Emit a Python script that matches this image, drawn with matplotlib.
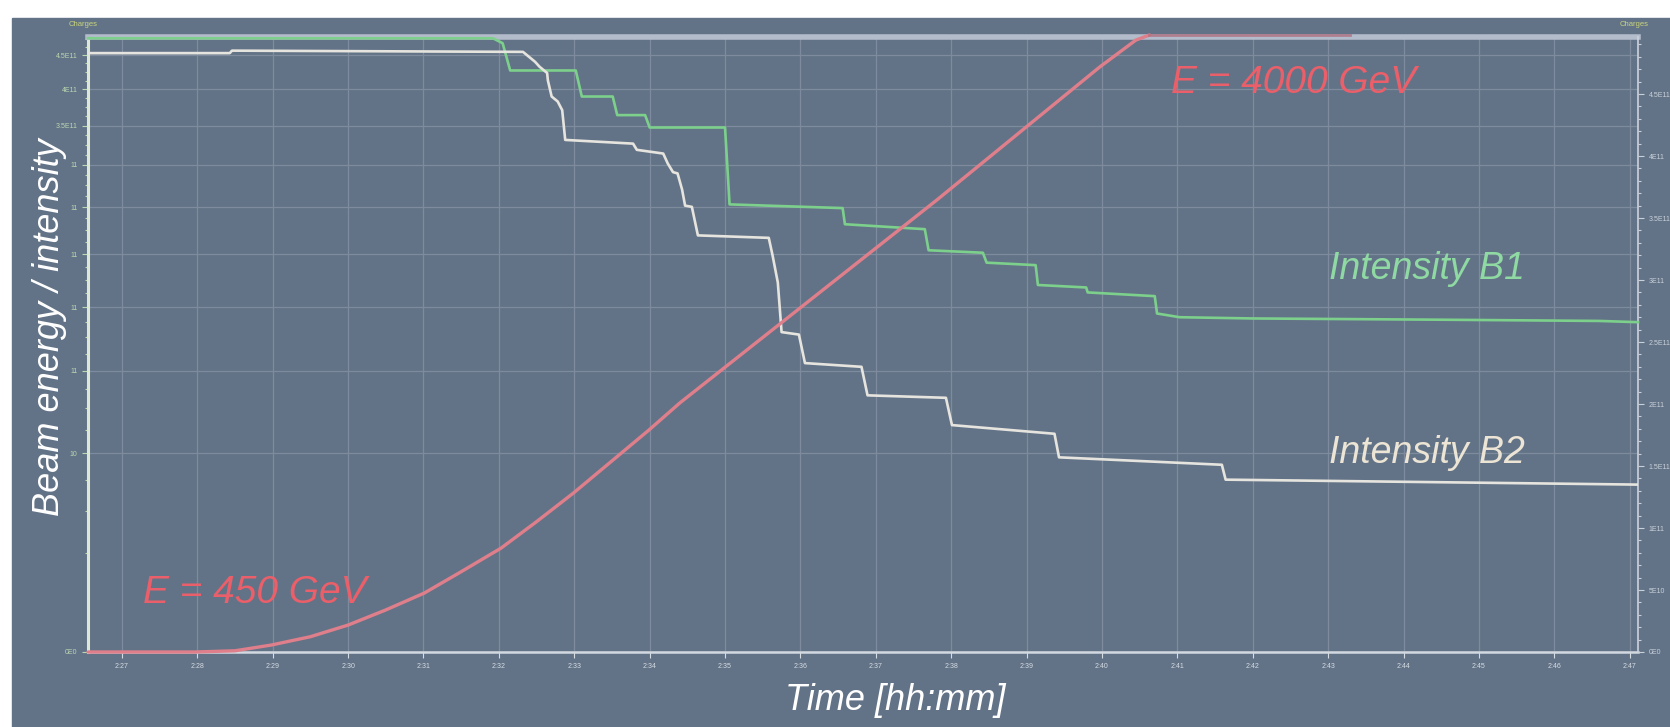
import matplotlib

matplotlib.use("Agg")
import matplotlib.pyplot as plt
import numpy as np
from matplotlib.patches import Rectangle
from matplotlib.ticker import MultipleLocator

plt.rcParams["font.family"] = ["Liberation Sans", "DejaVu Sans"]

# time axis: minutes after 2:00
b1_time = [26.55, 31.92, 32.05, 32.15, 33.02, 33.10, 33.51, 33.57, 33.94, 34.00,
           35.00, 35.06, 36.56, 36.59, 37.65, 37.70, 38.42, 38.47, 39.12, 39.15,
           39.79, 39.81, 40.70, 40.73, 41.03, 42.00, 44.48, 46.60, 47.11]
b1_intensity = [4.95, 4.95, 4.91, 4.69, 4.69, 4.48, 4.48, 4.33, 4.33, 4.23,
                4.23, 3.61, 3.58, 3.45, 3.41, 3.24, 3.22, 3.14, 3.12, 2.96,
                2.94, 2.90, 2.87, 2.73, 2.70, 2.69, 2.68, 2.67, 2.66]  # 1e11 p

b2_time = [26.55, 28.43, 28.46, 32.32, 32.48, 32.54, 32.64, 32.65, 32.70, 32.78,
           32.84, 32.88, 33.78, 33.83, 34.18, 34.24, 34.31, 34.37, 34.43, 34.47,
           34.56, 34.64, 35.58, 35.63, 35.70, 35.75, 35.98, 36.06, 36.81, 36.89,
           37.93, 38.01, 39.37, 39.43, 41.59, 41.64, 47.11]
b2_intensity = [4.83, 4.83, 4.85, 4.84, 4.76, 4.72, 4.67, 4.61, 4.48, 4.44,
                4.37, 4.13, 4.10, 4.05, 4.02, 3.94, 3.87, 3.86, 3.73, 3.60,
                3.59, 3.36, 3.34, 3.20, 2.98, 2.58, 2.56, 2.33, 2.30, 2.07,
                2.05, 1.83, 1.76, 1.57, 1.51, 1.39, 1.35]

energy_time = [26.55, 27.97, 28.50, 28.98, 29.50, 30.00, 30.50, 31.01, 31.50, 32.03,
               32.50, 32.99, 33.99, 34.40, 37.81, 39.97, 40.45, 40.63, 43.29]
energy_gev = [450, 450, 457, 490, 538, 605, 692, 789, 912, 1048,
              1200, 1365, 1727, 1883, 3051, 3816, 3971, 4000, 4000]

minute_ticks = list(range(27, 48))
minute_labels = [f"2:{m}" for m in minute_ticks]
intensity_ticks = [0, 0.5, 1, 1.5, 2, 2.5, 3, 3.5, 4, 4.5]
intensity_labels = ["0E0", "5E10", "1E11", "1.5E11", "2E11", "2.5E11",
                    "3E11", "3.5E11", "4E11", "4.5E11"]
# left-hand labels partly sit under the axis title panel
left_labels = ["0E0", "10", "11", "11", "11", "11", "11", "3.5E11", "4E11", "4.5E11"]

SLATE = "#637387"
GRID = "#7e8b9e"
W, H = 1670, 727


def fx(px):
    return px / W


def fy(py):
    return 1 - py / H


fig = plt.figure(figsize=(W / 100, H / 100), dpi=100)
fig.patch.set_facecolor("white")
fig.patches.append(Rectangle((fx(12), 0), 1 - fx(12), fy(18), transform=fig.transFigure,
                             color=SLATE, zorder=-10))

pos = [fx(88), fy(652), fx(1638) - fx(88), fy(37) - fy(652)]

# left axis: square-root scale, carries the grid
ax = fig.add_axes(pos)
ax.set_facecolor("none")
ax.set_xlim(26.55, 47.11)
ax.set_yscale("function", functions=(lambda v: np.sqrt(np.clip(v, 0, None)), np.square))
ax.set_ylim(0, 4.777)
ax.set_yticks(intensity_ticks, left_labels)
ax.yaxis.set_minor_locator(MultipleLocator(0.125))
ax.set_xticks(minute_ticks, minute_labels)
ax.grid(True, color=GRID, lw=0.9)
ax.tick_params(axis="y", which="both", colors="#b9d8b0", labelsize=5, length=4, width=0.8)
ax.tick_params(axis="y", which="minor", length=2)
ax.tick_params(axis="x", colors="#d5dbe3", labelsize=5, length=4, width=0.8, pad=4)
for side, col, lw in [("left", "#dbe8d8", 2.2), ("bottom", "#d3d9e1", 1.8),
                      ("top", "#b3bccb", 4.0)]:
    ax.spines[side].set_color(col)
    ax.spines[side].set_linewidth(lw)
ax.spines["right"].set_visible(False)

# right axis: linear intensity
ax_r = ax.twinx()
ax_r.set_ylim(0, 4.96)
ax_r.set_yticks(intensity_ticks, intensity_labels)
ax_r.yaxis.set_minor_locator(MultipleLocator(0.1))
ax_r.tick_params(axis="y", which="both", colors="#c9d0da", labelsize=5, length=4, width=0.8)
ax_r.tick_params(axis="y", which="minor", length=2)
for side in ["left", "top", "bottom"]:
    ax_r.spines[side].set_visible(False)
ax_r.spines["right"].set_color("#cbd2dc")
ax_r.spines["right"].set_linewidth(1.2)

ax_r.plot(b1_time, b1_intensity, color="#7cd08c", lw=1.9, zorder=4, clip_on=False)
ax_r.plot(b2_time, b2_intensity, color="#e6e4de", lw=1.9, zorder=5)

# energy on its own hidden scale; the flat top is drawn fainter
ax_e = ax.twinx()
ax_e.set_ylim(450, 3988.5)
ax_e.axis("off")
top = energy_gev.index(4000)
ax_e.plot(energy_time[:top + 1], energy_gev[:top + 1], color="#df7f8b", lw=2.4,
          clip_on=False, zorder=6, solid_capstyle="round")
ax_e.plot(energy_time[top:], energy_gev[top:], color="#b07080", lw=2.0,
          clip_on=False, zorder=6, alpha=0.8)

# small header tags
fig.text(fx(69), fy(25), "Charges", fontsize=5.5, color="#c9d47c", va="center")
fig.text(fx(1620), fy(25), "Charges", fontsize=5.5, color="#c9d47c", va="center")

# annotations
red = "#ea5f69"
fig.text(fx(1171), fy(93), "E = 4000 GeV", fontsize=28, style="italic", color=red,
         va="baseline")
fig.text(fx(143), fy(603), "E = 450 GeV", fontsize=28, style="italic", color=red,
         va="baseline")
fig.text(fx(1329), fy(279), "Intensity B1", fontsize=27, style="italic", color="#8fd9a2",
         va="baseline")
fig.text(fx(1329), fy(463), "Intensity B2", fontsize=27, style="italic", color="#ece4d4",
         va="baseline")
fig.text(fx(895), fy(700), "Time [hh:mm]", fontsize=26, style="italic", color="white",
         ha="center", va="center")
fig.text(fx(50), fy(327), "Beam energy / intensity", fontsize=26, style="italic",
         color="white", rotation=90, ha="center", va="center")

fig.savefig("out.png", dpi=100, facecolor=fig.get_facecolor())
